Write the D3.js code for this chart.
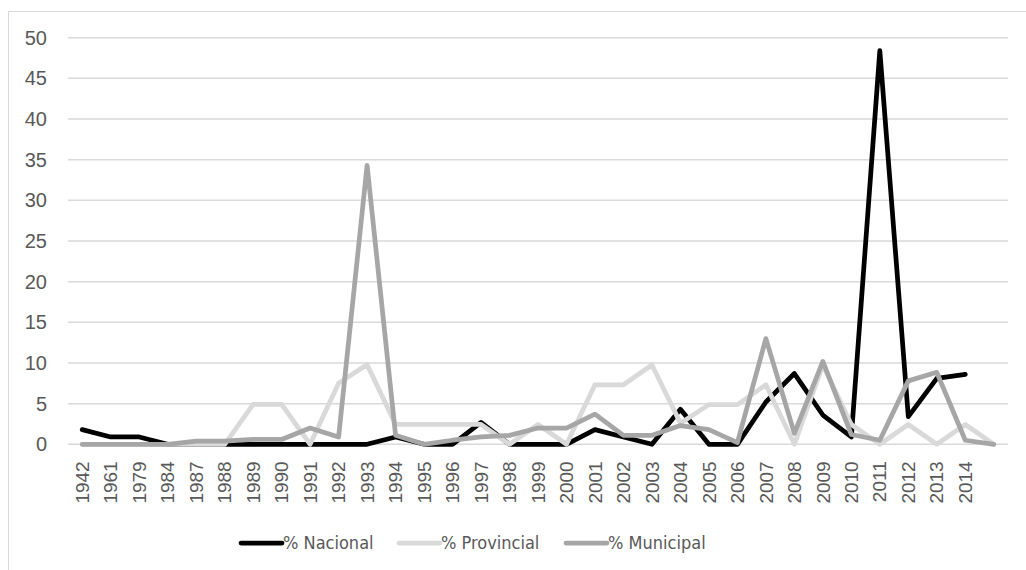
<!DOCTYPE html>
<html>
<head>
<meta charset="utf-8">
<script src="https://cdn.jsdelivr.net/npm/d3@7"></script>
<style>
body{margin:0;background:#fff;}
</style>
</head>
<body>
<svg id="chart" width="1026" height="570"></svg>
<script>
// categories, last one is blank on the source chart
var years = ['1942','1961','1979','1984','1987','1988','1989','1990','1991','1992','1993','1994','1995','1996','1997','1998','1999','2000','2001','2002','2003','2004','2005','2006','2007','2008','2009','2010','2011','2012','2013','2014',''];
var nacional = [1.8,0.9,0.9,0,0,0,0,0,0,0,0,0.9,0,0,2.7,0,0,0,1.8,0.9,0,4.3,0,0,5.2,8.7,3.6,0.9,48.4,3.4,8.1,8.6,null];
var provincial = [0,0,0,0,0,0,4.9,4.9,0,7.5,9.8,2.44,2.44,2.44,2.44,0,2.44,0,7.32,7.32,9.76,2.6,4.88,4.88,7.32,0,9.76,2.44,0,2.44,0,2.44,0];
var municipal = [0,0,0,0,0.4,0.4,0.6,0.6,2.0,0.9,34.3,1.1,0,0.5,0.9,1.1,2.0,2.0,3.7,1.1,1.1,2.3,1.8,0.2,13.0,1.35,10.2,1.2,0.5,7.8,8.85,0.5,0];
var yTicks = [0,5,10,15,20,25,30,35,40,45,50];

var seriesList = [
	{name: '% Nacional', values: nacional, color: '#000000'},
	{name: '% Provincial', values: provincial, color: '#d9d9d9'},
	{name: '% Municipal', values: municipal, color: '#a6a6a6'}
];

var svg = d3.select('#chart');
var plotLeft = 68, plotRight = 1008, plotTop = 37.7, plotBottom = 444.3;

//outer frame
svg.append('rect')
	.attr('x', 8.5).attr('y', 11.5)
	.attr('width', 1030).attr('height', 570)
	.attr('fill', 'none').attr('stroke', '#d9d9d9').attr('stroke-width', 1);

var x = d3.scaleBand().domain(d3.range(years.length)).range([plotLeft, plotRight]);
var y = d3.scaleLinear().domain([0, 50]).range([plotBottom, plotTop]);

//grid
svg.append('g').selectAll('line').data(yTicks).enter().append('line')
	.attr('x1', plotLeft).attr('x2', plotRight)
	.attr('y1', function(d){ return y(d); })
	.attr('y2', function(d){ return y(d); })
	.attr('stroke', '#d9d9d9').attr('stroke-width', 1.5);

//y axis labels
var yAxis = d3.axisLeft(y).tickValues(yTicks).tickSize(0).tickPadding(0);
var gy = svg.append('g').attr('transform', 'translate(47,0)').call(yAxis);
gy.select('.domain').remove();
gy.selectAll('text')
	.attr('fill', '#595959')
	.style('font-family', '"Liberation Sans", Arial, sans-serif')
	.style('font-size', '20px');

//x axis labels, rotated
var xAxis = d3.axisBottom(x).tickFormat(function(i){ return years[i]; }).tickSize(0);
var gx = svg.append('g').attr('transform', 'translate(0,' + plotBottom + ')').call(xAxis);
gx.select('.domain').remove();
gx.selectAll('text')
	.attr('fill', '#595959')
	.style('font-family', '"Liberation Sans", Arial, sans-serif')
	.style('font-size', '19px')
	.attr('text-anchor', 'end')
	.attr('transform', 'rotate(-90)')
	.attr('x', -17)
	.attr('y', 0)
	.attr('dy', '0.35em');

//lines
var line = d3.line()
	.defined(function(d){ return d !== null; })
	.x(function(d, i){ return x(i) + x.bandwidth() / 2; })
	.y(function(d){ return y(d); });

seriesList.forEach(function(s){
	svg.append('path')
		.datum(s.values)
		.attr('fill', 'none')
		.attr('stroke', s.color)
		.attr('stroke-width', 4.75)
		.attr('stroke-linejoin', 'round')
		.attr('stroke-linecap', 'round')
		.attr('d', line);
});

//legend
var legendX = [241, 399, 566];
var legend = svg.append('g');
seriesList.forEach(function(s, i){
	var g = legend.append('g').attr('transform', 'translate(' + legendX[i] + ',543)');
	g.append('line')
		.attr('x1', 0).attr('x2', 41)
		.attr('stroke', s.color).attr('stroke-width', 4.75)
		.attr('stroke-linecap', 'round');
	g.append('text')
		.attr('x', 42).attr('dy', '0.35em')
		.attr('fill', '#595959')
		.style('font-family', '"Liberation Sans Narrow", "DejaVu Sans Condensed", sans-serif')
		.style('font-size', '18px')
		.text(s.name);
});
</script>
</body>
</html>
